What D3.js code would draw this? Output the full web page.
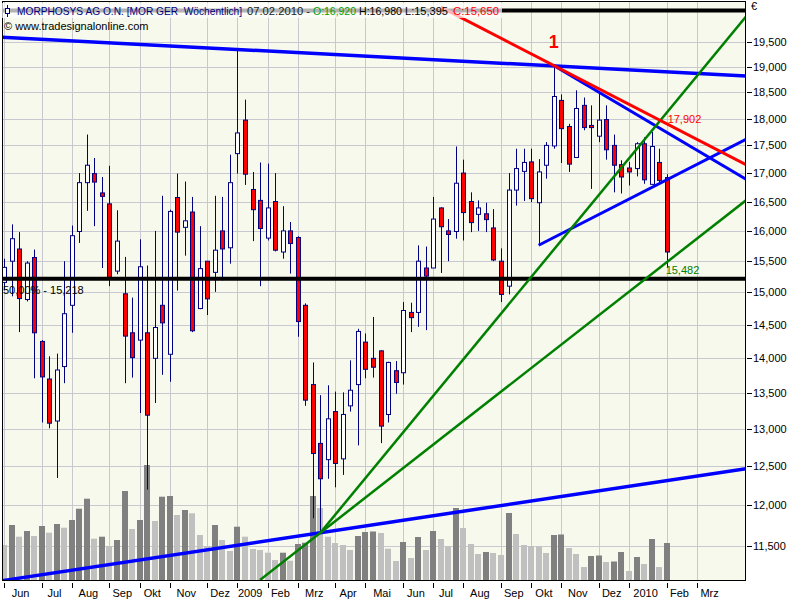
<!DOCTYPE html>
<html><head><meta charset="utf-8">
<script src="https://cdn.jsdelivr.net/npm/d3@7"></script>
<style>
body{margin:0;background:#fff;}
svg{display:block;font-family:"Liberation Sans",Arial,sans-serif;font-size:11px;}
</style>
</head><body>
<svg id="chart" width="800" height="600"></svg>
<script>
// ---------- DATA (weekly bars, MORPHOSYS AG O.N., week dates are Sundays) ----------
const firstWeek = "2008-06-01";
const open  = [15160,15500,15700,14890,15560,14250,13700,13110,13880,14800,15990,16830,16990,16650,16460,15340,14980,14380,14270,14380,
               14000,14800,14060,16570,16060,16320,14750,15500,15320,16000,15720,17350,17970,16710,16520,15880,16500,15650,16000,15890,
               14800,13620,12806,12590,13240,12600,13320,13620,14240,14000,14110,13200,13820,13790,14690,14690,15390,15390,16390,16000,
               15990,17000,16500,16280,16290,16050,15500,15100,16700,17030,17200,16480,17140,17490,18345,17850,17280,18250,17870,17670,
               17980,17500,17150,17090,17080,17530,16800,17190,16920];
const high  = [15540,16110,15980,15500,15690,14270,14030,14070,15500,16090,17000,17700,17270,16930,17130,16350,15570,14920,15860,15430,
               16000,16600,16360,16990,16850,16580,16080,15500,16600,16580,17330,19320,18360,17020,17190,17170,17000,16420,16150,15910,
               14830,13940,13470,13610,13520,13510,13970,14440,14370,14620,14120,13950,13960,14850,14840,15760,15740,16580,16400,16200,
               17480,17240,16660,16520,16480,16370,15710,17000,17440,17440,17440,17250,17560,19030,18460,17900,18540,18400,18250,18480,
               18250,17700,17230,17200,17560,17650,17750,17440,16980];
const low   = [15040,14940,14390,14860,13710,13090,13010,12350,13640,14380,15800,16340,16080,15390,15100,15290,13640,13720,13220,12200,
               13360,13760,13660,15030,15590,14390,14740,14650,15010,15190,15460,16990,16790,15830,15100,15840,15660,15540,15300,14320,
               13320,11840,11670,12340,12230,12390,13240,12780,13710,13720,12810,13090,13490,13620,14390,14470,14420,15390,15310,15500,
               15870,15840,15980,16000,15980,15500,14850,14970,16430,16510,16490,15760,16900,17440,17180,17020,17270,17780,16720,17560,
               17240,16660,16640,16780,16940,16810,16800,16810,15395];
const close = [15400,15870,14905,15470,14380,13730,13080,13830,14670,15920,16830,17140,16840,16590,15240,15830,14330,14010,15410,13190,
               14460,14530,16330,15980,16170,14410,15380,14900,15680,15700,16830,17730,16980,16360,16040,16390,15680,16000,15790,14550,
               13400,12672,12340,13140,12540,13200,13540,14400,13840,13870,13040,13940,13650,14720,14610,15500,15260,16200,16070,15940,
               16820,16310,16140,16390,16190,15520,14970,16700,17080,17190,16550,17020,17500,18420,17810,17160,18190,17830,17830,17970,
               17420,17140,16930,17020,17530,16880,17480,16870,15650];
const volume = [350,550,433,490,440,540,473,560,523,600,713,813,413,433,340,400,890,510,600,1150,
                590,833,840,650,700,667,450,340,550,400,290,533,433,310,300,273,200,273,193,360,
                373,840,720,433,370,350,300,440,480,485,470,313,190,380,220,430,300,490,410,337,
                720,520,360,260,280,270,250,670,460,350,340,335,270,450,455,320,260,130,240,245,
                180,185,280,90,230,160,410,130,370];
const priceTicks = [11500,12000,12500,13000,13500,14000,14500,15000,15500,16000,16500,17000,17500,18000,18500,19000,19500];
const monthNames = ["Jan","Feb","Mrz","Apr","Mai","Jun","Jul","Aug","Sep","Okt","Nov","Dez"];
// horizontal retracement levels
const levelValues = [15218, 20157];
const levelLabels = ["50,00% - 15,218", ""];
// trend lines: [startIdx, endIdx, anchorIdx1, price1, anchorIdx2, price2]
const trendBlueTop    = [-0.53, 98.54, -0.53, 19603, 98.54, 18822];
const trendBlueBottom = [-0.53, 98.54, -0.53, 11087, 88.45, 12323];
const trendBlueDown   = [73, 98.54, 73, 19030, 98.54, 16889];
const trendBlueUp     = [71, 98.54, 71, 15761, 98.54, 17611];
const trendGreenSteep = [42, 98.54, 42, 11660, 98.54, 20032];
const trendGreenFlat  = [34, 98.54, 42, 11660, 88, 15482];
const trendRed        = [58, 98.54, 73, 19030, 88, 17902];
const annotations = [{t:"1", idx:73, p:19534, c:"#ff0000"}, {t:"17,902", idx:88, p:17902, c:"#ff0000"}, {t:"15,482", idx:88, p:15482, c:"#008000"}];

// ---------- SCALES ----------
const svg = d3.select("#chart");
const L = 2, R = 746, T = 1, B = 580;
const x = d3.scaleLinear().domain([-0.27, 98.54]).range([L, R]);
const y = d3.scaleLog().domain([11098, 20359]).range([B, T]);
const yv = d3.scaleLinear().domain([0, 1500]).range([B, 430]);
const n = close.length;
const parse = d3.utcParse("%Y-%m-%d");
const d0 = parse(firstWeek);
const weekDate = i => d3.utcDay.offset(d0, 7 * i);

// month ticks (first weekly bar of each month)
const monthStarts = [];
for (let i = 0; i <= 100; i++) {
  const m = weekDate(i).getUTCMonth();
  if (i === 0 || m !== weekDate(i - 1).getUTCMonth()) monthStarts.push(i);
}
const ticks = [];
for (let k = 0; k < monthStarts.length - 1; k++) {
  const i = monthStarts[k];
  if (x(i) > R - 40) break;
  const dt = weekDate(i);
  const m = dt.getUTCMonth();
  ticks.push({i, next: monthStarts[k + 1], label: m === 0 ? String(dt.getUTCFullYear()) : monthNames[m]});
}

// ---------- BACKGROUND & GRID ----------
svg.append("defs").append("clipPath").attr("id", "plot")
  .append("rect").attr("x", L).attr("y", T).attr("width", R - L).attr("height", B - T);
svg.append("rect").attr("x", L).attr("y", T).attr("width", R - L).attr("height", B - T).attr("fill", "#f6f9ec");
const g = svg.append("g").attr("clip-path", "url(#plot)");
g.selectAll(".hg").data(priceTicks).join("line")
  .attr("x1", L).attr("x2", R)
  .attr("y1", d => Math.round(y(d)) + 0.5).attr("y2", d => Math.round(y(d)) + 0.5)
  .attr("stroke", "#c8c8d0").attr("stroke-width", 1);
g.selectAll(".vg").data(ticks).join("line")
  .attr("x1", d => Math.round(x(d.i)) + 0.5).attr("x2", d => Math.round(x(d.i)) + 0.5)
  .attr("y1", T).attr("y2", B)
  .attr("stroke", "#c8c8d0").attr("stroke-width", 1);

// ---------- VOLUME ----------
g.selectAll(".vol").data(volume).join("rect")
  .attr("x", (d, i) => Math.round(x(i)) - 3)
  .attr("width", 6)
  .attr("y", d => yv(d))
  .attr("height", d => B - yv(d))
  .attr("fill", (d, i) => (i > 0 && d >= volume[i - 1]) ? "#808080" : "#c0c0c0");

// level label (under candles)
svg.append("text").attr("x", 3).attr("y", y(levelValues[0]) + 15)
  .attr("fill", "#000").text(levelLabels[0]);

// ---------- CANDLES ----------
const idx = d3.range(n);
const cg = g.append("g");
cg.selectAll(".wick").data(idx).join("line")
  .attr("x1", i => Math.round(x(i)) + 0.5).attr("x2", i => Math.round(x(i)) + 0.5)
  .attr("y1", i => y(high[i])).attr("y2", i => y(low[i]))
  .attr("stroke", "#000080").attr("stroke-width", 1);
cg.selectAll(".body").data(idx).join("rect")
  .attr("x", i => Math.round(x(i)) - 1.5)
  .attr("width", 4)
  .attr("y", i => y(Math.max(open[i], close[i])))
  .attr("height", i => Math.max(1, Math.abs(y(open[i]) - y(close[i]))))
  .attr("fill", i => close[i] < open[i] ? "#ff0000" : "#ffffff")
  .attr("stroke", "#000080").attr("stroke-width", 1);

// ---------- HORIZONTAL LEVELS ----------
g.selectAll(".lvl").data(levelValues).join("line")
  .attr("x1", L).attr("x2", R)
  .attr("y1", d => y(d)).attr("y2", d => y(d))
  .attr("stroke", "#000").attr("stroke-width", 4);

// ---------- TREND LINES ----------
function trend(t, color, w) {
  const [s, e, i1, p1, i2, p2] = t;
  const X1 = x(i1), Y1 = y(p1), X2 = x(i2), Y2 = y(p2);
  const k = (Y2 - Y1) / (X2 - X1);
  const xs = x(s), xe = x(e);
  g.append("line")
    .attr("x1", xs).attr("y1", Y1 + (xs - X1) * k)
    .attr("x2", xe).attr("y2", Y1 + (xe - X1) * k)
    .attr("stroke", color).attr("stroke-width", w);
}
trend(trendBlueTop, "#0000ff", 3.5);
trend(trendBlueBottom, "#0000ff", 3.5);
trend(trendBlueDown, "#0000ff", 3);
trend(trendBlueUp, "#0000ff", 3);
trend(trendGreenSteep, "#008000", 2.5);
trend(trendGreenFlat, "#008000", 2.5);
trend(trendRed, "#ff0000", 3);

// ---------- ANNOTATIONS ----------
svg.append("text").attr("x", x(annotations[0].idx)).attr("y", y(annotations[0].p) + 8)
  .attr("text-anchor", "middle").attr("font-size", 18).attr("font-weight", "bold")
  .attr("fill", annotations[0].c).text(annotations[0].t);
svg.append("text").attr("x", x(annotations[1].idx) + 1).attr("y", y(annotations[1].p) - 1)
  .attr("fill", annotations[1].c).text(annotations[1].t);
svg.append("text").attr("x", x(annotations[2].idx) - 1).attr("y", y(annotations[2].p) + 12)
  .attr("fill", annotations[2].c).text(annotations[2].t);

// ---------- FRAME & AXES ----------
svg.append("rect").attr("x", L + 0.5).attr("y", T + 0.5).attr("width", R - L - 1).attr("height", B - T)
  .attr("fill", "none").attr("stroke", "#000").attr("stroke-width", 1);

const ya = svg.append("g");
ya.selectAll("line").data(priceTicks).join("line")
  .attr("x1", R + 1).attr("x2", R + 6)
  .attr("y1", d => Math.round(y(d)) + 0.5).attr("y2", d => Math.round(y(d)) + 0.5)
  .attr("stroke", "#000");
ya.selectAll("text").data(priceTicks).join("text")
  .attr("x", R + 7).attr("y", d => y(d) + 4)
  .attr("fill", "#000").text(d => d3.format(",")(d));
svg.append("text").attr("x", R + 5).attr("y", 10).attr("fill", "#000").text("€");

const xa = svg.append("g");
xa.selectAll("line").data(ticks).join("line")
  .attr("x1", d => Math.round(x(d.i)) + 0.5).attr("x2", d => Math.round(x(d.i)) + 0.5)
  .attr("y1", B + 3).attr("y2", B + 8).attr("stroke", "#000");
xa.selectAll("text").data(ticks).join("text")
  .attr("x", d => x((d.i + d.next - 1) / 2) + 1.5).attr("y", 597)
  .attr("text-anchor", "middle").attr("fill", "#000").text(d => d.label);

// ---------- HEADER ----------
svg.append("rect").attr("x", 0).attr("y", 3).attr("width", 502).attr("height", 15)
  .attr("fill", "#ffffff").attr("opacity", 0.7);
const icon = svg.append("g").attr("stroke", "#000080").attr("fill", "#fff");
icon.append("line").attr("x1", 7.5).attr("x2", 7.5).attr("y1", 5).attr("y2", 17);
icon.append("rect").attr("x", 5.5).attr("y", 8.5).attr("width", 4).attr("height", 5);
const hdr = [
  {t:"MORPHOSYS AG O.N. [MOR GER  Wöchentlich]", x:17, w:225, c:"#000080"},
  {t:"07.02.2010 -", x:247, w:63, c:"#202020"},
  {t:"O:" + d3.format(",")(open[n-1]), x:313, w:43, c:"#00a000"},
  {t:"H:" + d3.format(",")(high[n-1]), x:359, w:43, c:"#000000"},
  {t:"L:" + d3.format(",")(low[n-1]), x:405, w:43, c:"#000000"},
  {t:"C:" + d3.format(",")(close[n-1]), x:453, w:46, c:"#ff0000"}
];
svg.selectAll(".hdr").data(hdr).join("text")
  .attr("x", d => d.x).attr("y", 15).attr("fill", d => d.c)
  .attr("font-size", 10.5)
  .attr("textLength", d => d.w).attr("lengthAdjust", "spacingAndGlyphs")
  .style("white-space", "pre").text(d => d.t);
svg.append("text").attr("x", 4).attr("y", 30).attr("fill", "#000").text("© www.tradesignalonline.com");
</script>
</body></html>
